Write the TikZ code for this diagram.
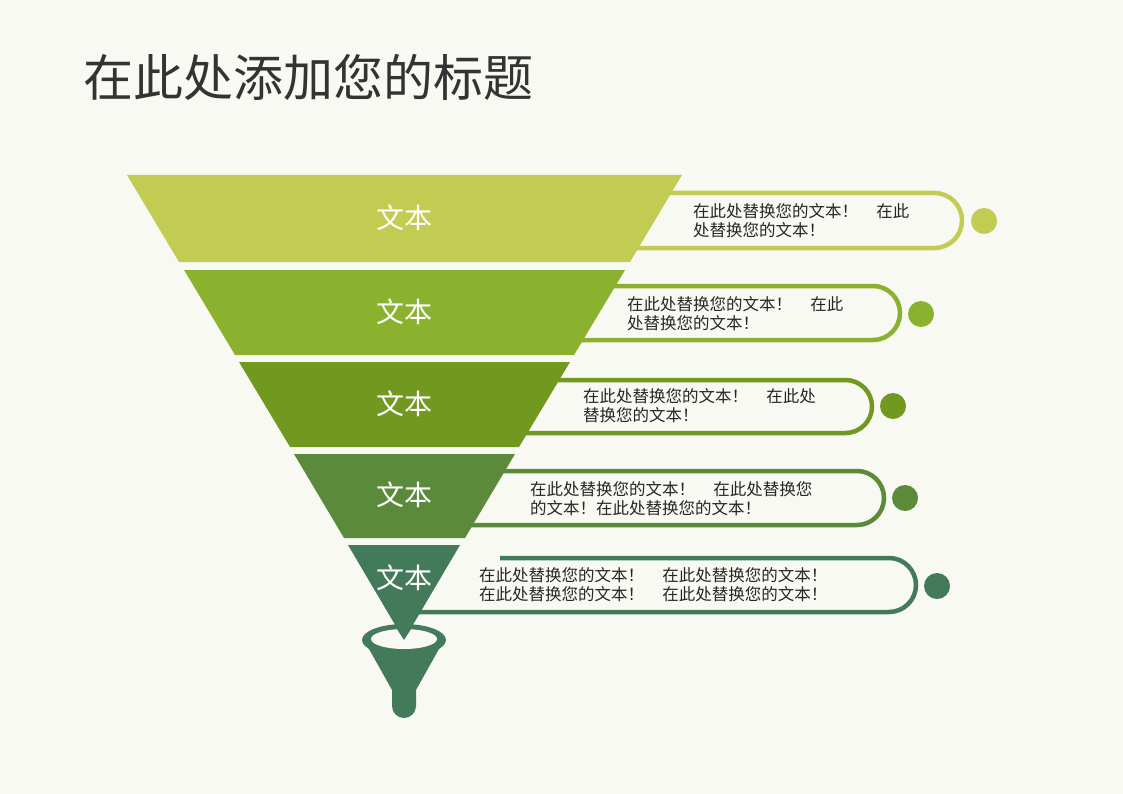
\documentclass[tikz,border=0pt]{standalone}
\usepackage{fontspec}
\setmainfont{Noto Sans CJK SC}
\usetikzlibrary{positioning}
\definecolor{bg}{HTML}{F9F9F3}
\definecolor{gA}{HTML}{C2CC52}
\definecolor{gB}{HTML}{8AB22F}
\definecolor{gC}{HTML}{72991F}
\definecolor{gD}{HTML}{5A8A3A}
\definecolor{gE}{HTML}{437A5A}
\newcommand{\gapsp}{\hspace{1.1em}}
\tikzset{
  label text/.style={text=white,font=\fontsize{28}{32}\selectfont},
  note text/.style={anchor=north west,align=left,inner sep=0pt,text=black!85,font=\fontsize{16.5}{19}\selectfont},
  band/.style={line width=4.5pt},
}
\begin{document}
\begin{tikzpicture}[x=1pt,y=-1pt]
  \fill[bg] (0,0) rectangle (1123,794);
  \useasboundingbox (0,0) rectangle (1123,794);
  \node[anchor=west,text=black!80,font=\fontsize{50}{54}\selectfont] (title) at (80,77) {在此处添加您的标题};

  % callout bands, behind the funnel
  \foreach \t/\b/\r/\c in {193/248/962/gA,286/340/900/gB,380/433/872/gC,471/525/884/gD,558/612/916/gE}{
    \pgfmathsetmacro{\h}{(\b-\t)/2}
    \draw[band,\c] (500,\t) -- (\r-\h,\t) arc[start angle=-90,end angle=90,radius=\h] -- (400,\b);
  }
  \foreach \y/\x/\c in {221/984/gA,314/921/gB,406/893/gC,498/905/gD,586/937/gE}
    \fill[\c] (\x,\y) circle[radius=13];

  % funnel layers
  \fill[gA] (127,175) -- (682,175) -- (630,262) -- (179,262) -- cycle;
  \fill[gB] (184,270) -- (625,270) -- (574,355) -- (235,355) -- cycle;
  \fill[gC] (239,362) -- (570,362) -- (519,447) -- (290,447) -- cycle;
  \fill[gD] (294,454) -- (515,454) -- (465,538) -- (344,538) -- cycle;
  \fill[gE] (348,545) -- (460,545) -- (404,640) -- cycle;
  \foreach \y/\n in {218/la,312/lb,404/lc,495/ld,578/le}
    \node[label text] (\n) at (404,\y) {文本};

  % funnel spout
  \fill[gE] (364,640) -- (392,690) -- (392,706) arc[start angle=180,end angle=0,radius=12] -- (416,690) -- (444,640) -- cycle;
  \fill[gE] (404,640) ellipse[x radius=42,y radius=16];
  \fill[bg] (404,639) ellipse[x radius=33,y radius=10];
  \fill[gE] (404,640) -- (395,626) -- (413,626) -- cycle;

  % notes
  \node[note text] (na) at (693,203) {在此处替换您的文本！\gapsp 在此\\处替换您的文本！};
  \node[note text] (nb) at (627,296) {在此处替换您的文本！\gapsp 在此\\处替换您的文本！};
  \node[note text] (nc) at (583,388) {在此处替换您的文本！\gapsp 在此处\\替换您的文本！};
  \node[note text] (nd) at (530,481) {在此处替换您的文本！\gapsp 在此处替换您\\的文本！在此处替换您的文本！};
  \node[note text] (ne) at (479,567) {在此处替换您的文本！\gapsp 在此处替换您的文本！\\在此处替换您的文本！\gapsp 在此处替换您的文本！};
\end{tikzpicture}
\end{document}
